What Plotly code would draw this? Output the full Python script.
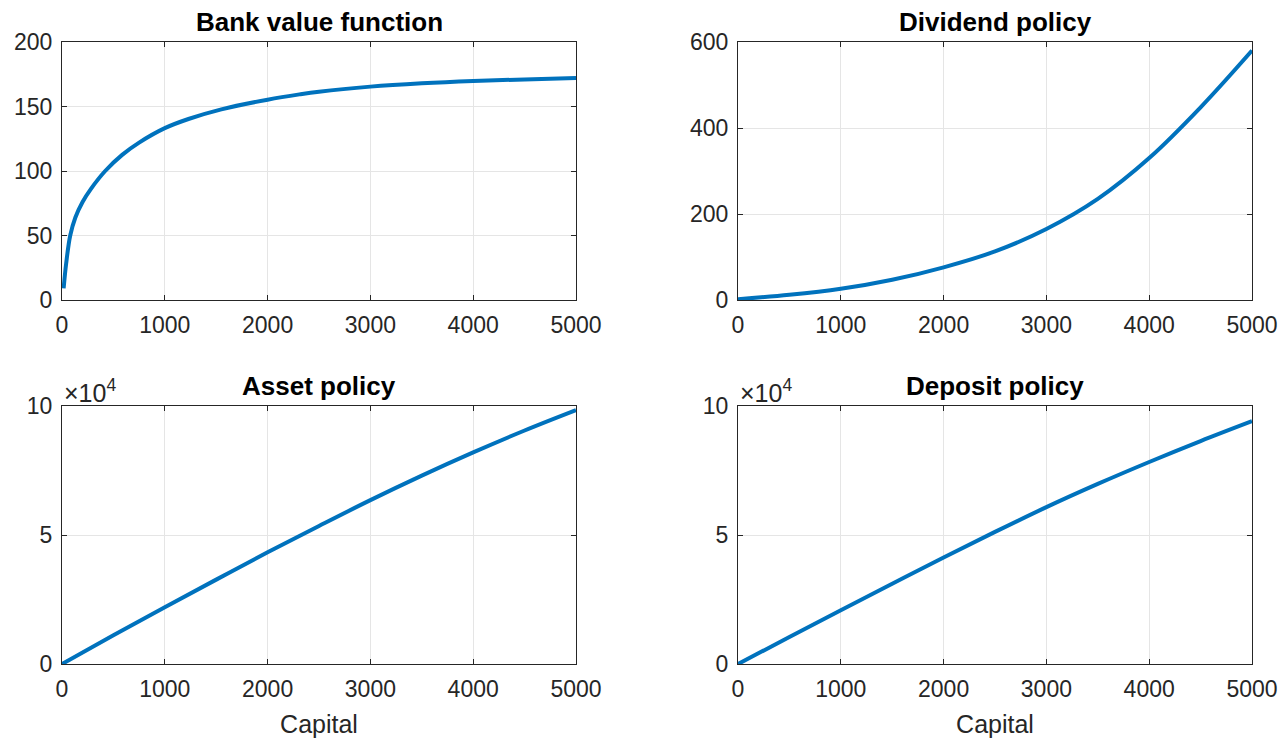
import plotly.graph_objects as go

# Capital grid and policy functions
cap_vf = [16, 40, 80, 130, 200, 280, 420, 585, 750, 1000, 1230, 1550, 2000, 2310, 2500, 3000, 3500, 4000, 4500, 5000]
value_fn = [9, 28, 50, 64, 76, 86, 100, 112.5, 122, 133.2, 140.3, 147.8, 155.3, 159.4, 161.5, 165.4, 168.0, 169.8, 171.0, 172.0]

cap = [0, 500, 1000, 1500, 2000, 2500, 3000, 3500, 4000, 4500, 5000]
dividend = [2, 12, 26, 47, 76, 113, 165, 235, 330, 448, 580]
assets = [0, 11100, 22000, 32700, 43300, 53500, 63500, 73000, 82000, 90500, 98400]
deposits = [0, 10450, 20800, 31100, 41300, 51200, 60800, 69800, 78300, 86400, 94100]

x_ticks = [0, 1000, 2000, 3000, 4000, 5000]
titles = ["Bank value function", "Dividend policy", "Asset policy", "Deposit policy"]

W, H = 1281, 738
LINE = "#0072BD"
AX = "#262626"
FONT = "Liberation Sans"

col_dom = [[62 / W, 576 / W], [738 / W, 1252 / W]]
row_dom = [[1 - 300 / H, 1 - 42 / H], [1 - 664 / H, 1 - 406 / H]]

fig = go.Figure()

series = [
    (cap_vf, value_fn),
    (cap, dividend),
    (cap, assets),
    (cap, deposits),
]

y_specs = [
    dict(range=[0, 200], tickvals=[0, 50, 100, 150, 200], ticktext=["0", "50", "100", "150", "200"]),
    dict(range=[0, 600], tickvals=[0, 200, 400, 600], ticktext=["0", "200", "400", "600"]),
    dict(range=[0, 100000], tickvals=[0, 50000, 100000], ticktext=["0", "5", "10"]),
    dict(range=[0, 100000], tickvals=[0, 50000, 100000], ticktext=["0", "5", "10"]),
]

layout = dict(
    width=W, height=H, autosize=False,
    margin=dict(l=0, r=0, t=0, b=0),
    paper_bgcolor="white", plot_bgcolor="white",
    showlegend=False,
    font=dict(family=FONT, color=AX, size=23),
)

annotations = []
for i, ((xs, ys), ys_spec, title) in enumerate(zip(series, y_specs, titles)):
    r, c = divmod(i, 2)
    n = i + 1
    xa = "x" if n == 1 else f"x{n}"
    ya = "y" if n == 1 else f"y{n}"
    fig.add_trace(go.Scatter(
        x=xs, y=ys, mode="lines",
        line=dict(color=LINE, width=4, shape="spline", smoothing=1.0),
        xaxis=xa, yaxis=ya, hoverinfo="skip",
    ))
    axis_common = dict(
        showline=True, linecolor=AX, linewidth=1, mirror="ticks",
        ticks="inside", ticklen=5, tickcolor=AX, tickwidth=1,
        showgrid=True, gridcolor="#e5e5e5", gridwidth=1, automargin=False,
        zeroline=False, tickfont=dict(family=FONT, size=23, color=AX),
    )
    xaxis = dict(
        axis_common, domain=col_dom[c], anchor=ya, range=[0, 5000],
        tickvals=x_ticks, ticktext=[str(v) for v in x_ticks], ticklabelstandoff=4,
    )
    if r == 1:
        xaxis["title"] = dict(text="Capital", font=dict(family=FONT, size=25, color=AX), standoff=14)
    layout["xaxis" if n == 1 else f"xaxis{n}"] = xaxis
    layout["yaxis" if n == 1 else f"yaxis{n}"] = dict(
        axis_common, domain=row_dom[r], anchor=xa,
        range=ys_spec["range"], tickvals=ys_spec["tickvals"], ticktext=ys_spec["ticktext"],
        ticklabelstandoff=4,
    )
    xc = (col_dom[c][0] + col_dom[c][1]) / 2
    annotations.append(dict(
        text=f"<b>{title}</b>", x=xc, y=row_dom[r][1], xref="paper", yref="paper",
        xanchor="center", yanchor="bottom", yshift=3, showarrow=False,
        font=dict(family=FONT, size=26, color="black"),
    ))
    if r == 1:
        annotations.append(dict(
            text="×10<sup>4</sup>", x=col_dom[c][0], y=row_dom[r][1], xref="paper", yref="paper",
            xanchor="left", yanchor="bottom", yshift=-3, showarrow=False,
            font=dict(family=FONT, size=25, color=AX),
        ))

layout["annotations"] = annotations
fig.update_layout(**layout)
fig.write_html("out.html")
